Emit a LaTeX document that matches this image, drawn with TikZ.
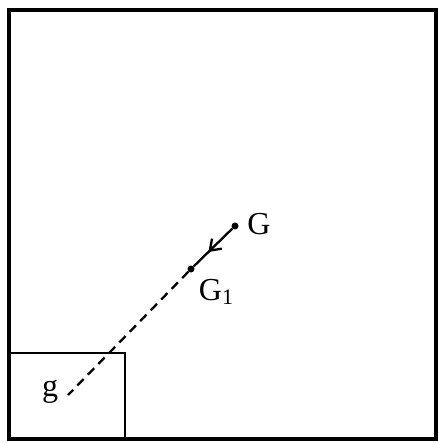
\documentclass[tikz,border=0pt]{standalone}
\usepackage{fontspec}
\setmainfont{Liberation Serif}
\usetikzlibrary{arrows.meta,decorations.markings}
\begin{document}
\begin{tikzpicture}[x=1pt,y=-1pt,
  lbl/.style={inner sep=0pt,font={\fontsize{32}{34}\selectfont}},
  dotpt/.style={circle,fill=black,inner sep=0pt,minimum size=7pt},
  frame/.style={draw=black,line width=3.5pt},
  box/.style={draw=black,line width=2.5pt}]
\useasboundingbox (0,0) rectangle (438,443);
\draw[frame] (9,10) rectangle (436,439);
\draw[box] (9,353) rectangle (125,439);
\coordinate (gend) at (68,395);
\node[dotpt] (G) at (235,226) {};
\node[dotpt] (G1) at (191,269) {};
\node[lbl] (Gl) at (259,224) {G};
\node[lbl] (G1l) at (216,292) {G\raisebox{-4pt}{\fontsize{22}{24}\selectfont 1}};
\node[lbl] (gl) at (50,392) {g};
\draw[line width=2.3pt,dash pattern=on 9pt off 6pt] (G1) -- (gend);
\draw[line width=2.3pt,decoration={markings,mark=at position 0.62 with {\arrow{Straight Barb[length=10pt,width=14pt,line width=2.3pt]}}},postaction={decorate}] (G) -- (G1);
\end{tikzpicture}
\end{document}
